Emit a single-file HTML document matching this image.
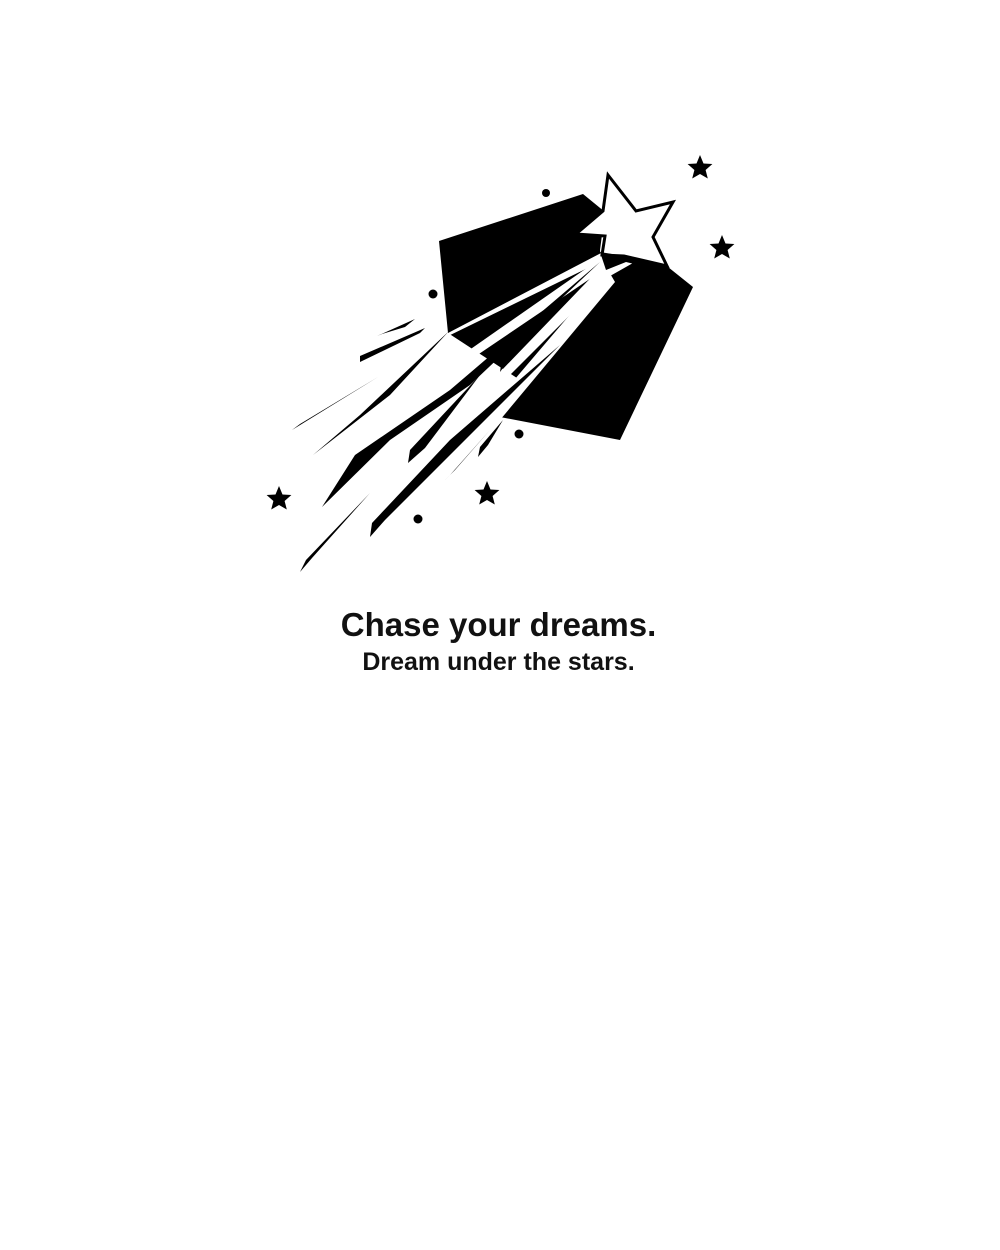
<!DOCTYPE html>
<html><head><style>
html,body{margin:0;padding:0;background:#fff;}
body{width:1000px;height:1250px;position:relative;overflow:hidden;}
.t1{position:absolute;left:0;width:997px;top:606px;text-align:center;font:bold 33px "Liberation Sans",sans-serif;color:#111;}
.t2{position:absolute;left:0;width:997px;top:648px;text-align:center;font:bold 25px "Liberation Sans",sans-serif;color:#111;}
</style></head><body>
<svg width="1000" height="1250" style="position:absolute;left:0;top:0">
<defs><polygon id="s" points="0,-13 3.5,-4.5 12.4,-4 5.6,2 7.8,10.5 0,6 -7.8,10.5 -5.6,2 -12.4,-4 -3.5,-4.5"/></defs>
<!-- blocks -->
<polygon fill="#000" points="439,241 583,194 605,212 600,250 603,280 633,263 668,267 693,287 620,440 500,417 520,380 448,333"/>
<!-- white streak gaps over blocks -->
<polygon fill="#fff" points="603,252 448,333 440,340 600,262"/>
<polygon fill="#fff" points="604,256 455,360 470,360 606,268"/>
<polygon fill="#fff" points="606,262 500,372 505,380 610,275"/>
<polygon fill="#fff" points="608,270 480,420 500,420 615,282"/>
<!-- streaks -->
<polygon fill="#000" points="377,336 415,319 405,327 382,334"/>
<polygon fill="#000" points="360,356 360,362 420,333 425,328"/>
<polygon fill="#000" points="292,430 378,377 300,424"/>
<polygon fill="#000" points="313,455 360,415 447,333 450,330 390,395"/>
<polygon fill="#000" points="322,507 355,455 450,390 600,262 470,385 390,440"/>
<polygon fill="#000" points="300,572 306,560 370,493 312,558"/>
<polygon fill="#000" points="370,537 372,523 450,440 560,345 455,450 385,520"/>
<polygon fill="#000" points="408,463 410,450 480,375 425,448"/>
<polygon fill="#000" points="478,457 480,447 503,420 488,445"/>
<polygon fill="#000" points="445,480 450,475 490,430 455,470"/>
<polygon fill="#000" points="500,372 502,358 585,282 520,345"/>
<!-- main star -->
<polygon fill="#fff" stroke="#000" stroke-width="3" stroke-linejoin="miter" points="608,175 636,211 673,202 653,237 667,266 624,256 602,255 605,236 576,234 603,211"/>
<polygon fill="#000" points="600,252 624,256 667,266 660,270 626,262 606,270"/>
<!-- small stars -->
<use href="#s" x="700" y="168" fill="#000"/>
<use href="#s" x="722" y="248" fill="#000"/>
<use href="#s" x="279" y="499" fill="#000"/>
<use href="#s" x="487" y="494" fill="#000"/>
<circle cx="546" cy="193" r="4" fill="#000"/>
<circle cx="433" cy="294" r="4.5" fill="#000"/>
<circle cx="519" cy="434" r="4.5" fill="#000"/>
<circle cx="418" cy="519" r="4.5" fill="#000"/>
</svg>
<div class="t1">Chase your dreams.</div>
<div class="t2">Dream under the stars.</div>
</body></html>
